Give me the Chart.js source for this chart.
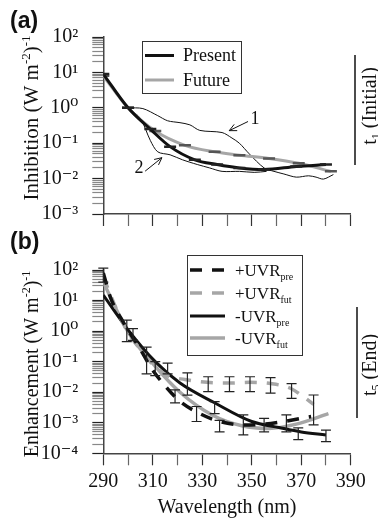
<!DOCTYPE html>
<html>
<head>
<meta charset="utf-8">
<script src="https://cdn.jsdelivr.net/npm/chart.js@4"></script>
<style>
body { margin: 0; background: #fff; }
#wrap { position: relative; width: 378px; height: 521px; }
canvas { position: absolute; left: 0; }
#chartA { top: 0; }
#chartB { top: 225px; }
</style>
</head>
<body>
<div id="wrap">
<canvas id="chartA" width="378" height="240"></canvas>
<canvas id="chartB" width="378" height="296"></canvas>
</div>
<script>
var SERIF = "'Liberation Serif', 'DejaVu Serif', serif";
var SANS = "'Liberation Sans', Arial, sans-serif";

// (a) inhibition at t1
var presentWl  = [290, 300, 309, 317, 327, 336, 345, 355, 368, 380];
var presentVal = [9, 1.0, 0.25, 0.08, 0.034, 0.025, 0.02, 0.018, 0.022, 0.025];
var futureWl   = [290, 300, 311, 323, 335, 345, 357, 369, 382];
var futureVal  = [8, 1.0, 0.22, 0.087, 0.057, 0.046, 0.037, 0.027, 0.016];
var spec1Wl  = [300, 306, 312, 316, 321, 325, 329, 338, 342, 345, 349, 355, 359, 363, 368, 373, 376, 379, 383];
var spec1Val = [1.0, 0.95, 0.6, 0.43, 0.38, 0.33, 0.23, 0.2, 0.14, 0.1, 0.05, 0.02, 0.016, 0.0135, 0.011, 0.012, 0.011, 0.0097, 0.013];
var spec2Wl  = [300, 305, 309, 312, 317, 322, 328, 333, 338, 345, 351, 356];
var spec2Val = [1.0, 0.5, 0.12, 0.057, 0.047, 0.034, 0.025, 0.02, 0.016, 0.016, 0.015, 0.016];

// (b) enhancement at t5
var plusPreWl  = [290, 293, 298, 305, 309.5, 315, 321, 329, 337, 347, 355, 363, 374];
var plusPreVal = [80, 12, 2, 0.25, 0.06, 0.016, 0.005, 0.002, 0.0011, 0.00085, 0.0009, 0.0011, 0.0016];
var plusFutWl  = [290, 295, 300, 305, 310, 316, 323, 332, 341, 349, 358, 366, 371, 375];
var plusFutVal = [60, 6, 0.9, 0.25, 0.08, 0.035, 0.026, 0.021, 0.02, 0.021, 0.019, 0.013, 0.007, 0.004];
var minusPreWl  = [290, 300, 311, 321, 335, 350, 361, 370, 380];
var minusPreVal = [15, 1.1, 0.1, 0.02, 0.0045, 0.0011, 0.0007, 0.0005, 0.0004];
var minusFutWl  = [290, 300, 311, 321, 334, 346, 357, 368, 381];
var minusFutVal = [40, 0.95, 0.07, 0.01, 0.0018, 0.0008, 0.00065, 0.0009, 0.002];

var errWl = [290, 299.5, 302, 307.5, 311, 316, 319, 324, 327.7, 332.4, 335, 337, 341, 346.6, 349.3, 355, 357.6, 364, 366.1, 368.8, 375, 380];
var errLo = [40, 0.45, 0.5, 0.04, 0.035, 0.04, 0.0045, 0.008, 0.0011, 0.0105, 0.002, 0.0005, 0.0105, 0.0004, 0.0105, 0.0005, 0.0093, 0.0005, 0.0063, 0.00028, 0.00085, 0.00024];
var errHi = [115, 2.3, 1.2, 0.3, 0.1, 0.09, 0.012, 0.043, 0.0034, 0.032, 0.0049, 0.0012, 0.032, 0.0018, 0.032, 0.0014, 0.03, 0.0018, 0.019, 0.00068, 0.0081, 0.00057];

var wlLabels = [290, 310, 330, 350, 370, 390];
var expA = [-3, -2, -1, 0, 1, 2];
var expB = [-4, -3, -2, -1, 0, 1, 2];

var BLACK = '#111';
var GRAY = '#a6a6a6';

function pts(xs, ys) {
    return xs.map(function (x, i) { return { x: x, y: ys[i] }; });
}

var SUP = { '-': '\u207B', '0': '\u2070', '1': '\u00B9', '2': '\u00B2', '3': '\u00B3', '4': '\u2074' };
function supStr(n) {
    return String(n).split('').map(function (c) { return SUP[c]; }).join('');
}

function logTicks(exps) {
    var t = [];
    for (var i = 0; i < exps.length - 1; i++) {
        for (var m = 1; m <= 9; m++) {
            t.push({ value: parseFloat((m * Math.pow(10, exps[i])).toPrecision(3)), major: m === 1 });
        }
    }
    t.push({ value: Math.pow(10, exps[exps.length - 1]), major: true });
    return t;
}

function richText(ctx, parts, x, y, size, rot, align) {
    var small = Math.round(size * 0.6);
    var widths = [], total = 0;
    ctx.save();
    ctx.translate(x, y);
    ctx.rotate(rot || 0);
    parts.forEach(function (p, i) {
        ctx.font = (p[1] === 'n' ? size : small) + 'px ' + SERIF;
        widths[i] = ctx.measureText(p[0]).width;
        total += widths[i];
    });
    var cx = align === 'left' ? 0 : -total / 2;
    ctx.textAlign = 'left';
    ctx.textBaseline = 'alphabetic';
    ctx.fillStyle = BLACK;
    parts.forEach(function (p, i) {
        ctx.font = (p[1] === 'n' ? size : small) + 'px ' + SERIF;
        var dy = p[1] === 'sup' ? -size * 0.36 : (p[1] === 'sub' ? size * 0.24 : 0);
        ctx.fillText(p[0], cx, size * 0.33 + dy);
        cx += widths[i];
    });
    ctx.restore();
}

function yTitle(word) {
    return [[word + ' (W m', 'n'], ['-2', 'sup'], [')', 'n'], ['-1', 'sup']];
}

function legendRow(ctx, ds, x1, x2, y, parts, tx, size) {
    ctx.save();
    ctx.strokeStyle = ds.borderColor;
    ctx.lineWidth = ds.borderWidth;
    ctx.setLineDash(ds.borderDash || []);
    ctx.beginPath();
    ctx.moveTo(x1, y);
    ctx.lineTo(x2, y);
    ctx.stroke();
    ctx.restore();
    richText(ctx, parts, tx, y, size, 0, 'left');
}

function arrow(ctx, x1, y1, x2, y2) {
    var a = Math.atan2(y2 - y1, x2 - x1), h = 8, s = 0.45;
    ctx.save();
    ctx.strokeStyle = BLACK;
    ctx.lineWidth = 1;
    ctx.beginPath();
    ctx.moveTo(x1, y1);
    ctx.lineTo(x2, y2);
    ctx.moveTo(x2 - h * Math.cos(a - s), y2 - h * Math.sin(a - s));
    ctx.lineTo(x2, y2);
    ctx.lineTo(x2 - h * Math.cos(a + s), y2 - h * Math.sin(a + s));
    ctx.stroke();
    ctx.restore();
}

function xAxis(showLabels, height) {
    return {
        type: 'linear', min: 290, max: 390,
        afterFit: function (s) { s.height = height; },
        border: { color: '#444', width: 1.5 },
        grid: { drawOnChartArea: false, tickLength: 12, tickWidth: 1.2,
            tickColor: function (c) { return c.tick && wlLabels.indexOf(c.tick.value) >= 0 ? '#333' : '#666'; } },
        ticks: {
            display: showLabels, stepSize: 10, autoSkip: false, maxRotation: 0, padding: 4,
            color: BLACK, font: { family: SERIF, size: 20 },
            callback: function (v) { return wlLabels.indexOf(v) >= 0 ? String(v) : ''; }
        },
        title: { display: showLabels, text: 'Wavelength (nm)', color: BLACK,
            font: { family: SERIF, size: 20 }, padding: { top: 0, bottom: 1 } }
    };
}

function yAxis(exps) {
    return {
        type: 'logarithmic',
        min: Math.pow(10, exps[0]), max: Math.pow(10, exps[exps.length - 1]),
        afterFit: function (s) { s.width = 103.3; },
        afterBuildTicks: function (s) { s.ticks = logTicks(exps); },
        border: { color: '#444', width: 1.5 },
        grid: { drawOnChartArea: false, tickLength: 11, tickWidth: 1.2,
            tickColor: function (c) { return c.tick && c.tick.major ? '#222' : '#888'; } },
        ticks: {
            autoSkip: false, padding: 14, color: BLACK, font: { family: SERIF, size: 20 },
            callback: function (v, i, t) {
                return t[i].major ? '10' + supStr(Math.round(Math.log10(v))) : '';
            }
        }
    };
}

// panel (a)
var decorA = {
    id: 'decorA',
    afterDraw: function (chart) {
        var ctx = chart.ctx, x = chart.scales.x, y = chart.scales.y, ds = chart.data.datasets;
        ctx.save();
        ctx.fillStyle = BLACK;
        ctx.font = 'bold 23px ' + SANS;
        ctx.textBaseline = 'middle';
        ctx.fillText('(a)', 10, 22);
        ctx.restore();
        richText(ctx, yTitle('Inhibition'), 31, 118, 21, -Math.PI / 2);

        ctx.save();
        ctx.strokeStyle = '#333';
        ctx.lineWidth = 1;
        ctx.strokeRect(142.5, 41.5, 99, 52);
        ctx.restore();
        legendRow(ctx, ds[0], 145, 174, 55.5, [['Present', 'n']], 183, 18);
        legendRow(ctx, ds[1], 145, 174, 80, [['Future', 'n']], 183, 18);

        ctx.save();
        ctx.strokeStyle = BLACK;
        ctx.lineWidth = 1.5;
        ctx.beginPath();
        ctx.moveTo(355, 55);
        ctx.lineTo(355, 165);
        ctx.stroke();
        ctx.restore();
        richText(ctx, [['t', 'n'], ['1', 'sub'], [' (Initial)', 'n']], 369, 106, 20, -Math.PI / 2);

        ctx.save();
        ctx.fillStyle = BLACK;
        ctx.font = '18px ' + SERIF;
        ctx.textAlign = 'center';
        ctx.textBaseline = 'middle';
        ctx.fillText('1', x.getPixelForValue(351.3), y.getPixelForValue(0.46));
        ctx.fillText('2', x.getPixelForValue(304.4), y.getPixelForValue(0.0195));
        ctx.restore();
        arrow(ctx, x.getPixelForValue(348.5), y.getPixelForValue(0.41), x.getPixelForValue(340.9), y.getPixelForValue(0.226));
        arrow(ctx, x.getPixelForValue(306.9), y.getPixelForValue(0.0162), x.getPixelForValue(313.7), y.getPixelForValue(0.039));
    }
};

new Chart(document.getElementById('chartA'), {
    type: 'line',
    data: {
        datasets: [
            { label: 'Present', data: pts(presentWl, presentVal), borderColor: BLACK, borderWidth: 3,
              cubicInterpolationMode: 'monotone', pointStyle: 'line', pointRadius: 6,
              pointBorderWidth: 2.5, pointBorderColor: '#222' },
            { label: 'Future', data: pts(futureWl, futureVal), borderColor: GRAY, borderWidth: 3,
              cubicInterpolationMode: 'monotone', pointStyle: 'line', pointRadius: 6,
              pointBorderWidth: 2.5, pointBorderColor: '#555' },
            { label: '1', data: pts(spec1Wl, spec1Val), borderColor: BLACK, borderWidth: 1,
              tension: 0.3, pointRadius: 0 },
            { label: '2', data: pts(spec2Wl, spec2Val), borderColor: BLACK, borderWidth: 1,
              tension: 0.3, pointRadius: 0 }
        ]
    },
    options: {
        responsive: false,
        animation: false,
        devicePixelRatio: 1,
        layout: { padding: { left: 0, top: 37, right: 27.3, bottom: 0 } },
        scales: { x: xAxis(false, 21), y: yAxis(expA) },
        plugins: { legend: { display: false }, tooltip: { enabled: false } }
    },
    plugins: [decorA]
});

// panel (b)
var decorB = {
    id: 'decorB',
    afterDatasetsDraw: function (chart) {
        var ctx = chart.ctx, x = chart.scales.x, y = chart.scales.y;
        ctx.save();
        ctx.strokeStyle = '#222';
        ctx.lineWidth = 1.2;
        ctx.beginPath();
        errWl.forEach(function (w, i) {
            var px = x.getPixelForValue(w), lo = y.getPixelForValue(errLo[i]), hi = y.getPixelForValue(errHi[i]);
            ctx.moveTo(px, lo); ctx.lineTo(px, hi);
            ctx.moveTo(px - 5, lo); ctx.lineTo(px + 5, lo);
            ctx.moveTo(px - 5, hi); ctx.lineTo(px + 5, hi);
        });
        ctx.stroke();
        ctx.restore();
    },
    afterDraw: function (chart) {
        var ctx = chart.ctx, ds = chart.data.datasets;
        ctx.save();
        ctx.fillStyle = BLACK;
        ctx.font = 'bold 23px ' + SANS;
        ctx.textBaseline = 'middle';
        ctx.fillText('(b)', 10, 18);
        ctx.restore();
        richText(ctx, yTitle('Enhancement'), 31, 139, 20, -Math.PI / 2);

        ctx.save();
        ctx.fillStyle = '#fff';
        ctx.fillRect(187, 30, 115, 100);
        ctx.strokeStyle = '#333';
        ctx.lineWidth = 1;
        ctx.strokeRect(187.5, 30.5, 115, 100);
        ctx.restore();
        legendRow(ctx, ds[0], 190, 225, 45, [['+UVR', 'n'], ['pre', 'sub']], 235, 17);
        legendRow(ctx, ds[1], 190, 225, 68, [['+UVR', 'n'], ['fut', 'sub']], 235, 17);
        legendRow(ctx, ds[2], 190, 225, 91, [['-UVR', 'n'], ['pre', 'sub']], 235, 17);
        legendRow(ctx, ds[3], 190, 225, 113, [['-UVR', 'n'], ['fut', 'sub']], 235, 17);

        ctx.save();
        ctx.strokeStyle = BLACK;
        ctx.lineWidth = 1.5;
        ctx.beginPath();
        ctx.moveTo(357, 82);
        ctx.lineTo(357, 193);
        ctx.stroke();
        ctx.restore();
        richText(ctx, [['t', 'n'], ['5', 'sub'], [' (End)', 'n']], 369, 140, 20, -Math.PI / 2);
    }
};

new Chart(document.getElementById('chartB'), {
    type: 'line',
    data: {
        datasets: [
            { label: '+UVRpre', data: pts(plusPreWl, plusPreVal), borderColor: BLACK, borderWidth: 3.5,
              borderDash: [12, 10], cubicInterpolationMode: 'monotone', pointRadius: 0 },
            { label: '+UVRfut', data: pts(plusFutWl, plusFutVal), borderColor: GRAY, borderWidth: 3.5,
              borderDash: [12, 10], cubicInterpolationMode: 'monotone', pointRadius: 0 },
            { label: '-UVRpre', data: pts(minusPreWl, minusPreVal), borderColor: BLACK, borderWidth: 3,
              cubicInterpolationMode: 'monotone', pointRadius: 0 },
            { label: '-UVRfut', data: pts(minusFutWl, minusFutVal), borderColor: GRAY, borderWidth: 3.5,
              cubicInterpolationMode: 'monotone', pointRadius: 0 }
        ]
    },
    options: {
        responsive: false,
        animation: false,
        devicePixelRatio: 1,
        layout: { padding: { left: 0, top: 45, right: 27.3, bottom: 0 } },
        scales: { x: xAxis(true, 67.7), y: yAxis(expB) },
        plugins: { legend: { display: false }, tooltip: { enabled: false } }
    },
    plugins: [decorB]
});
</script>
</body>
</html>
